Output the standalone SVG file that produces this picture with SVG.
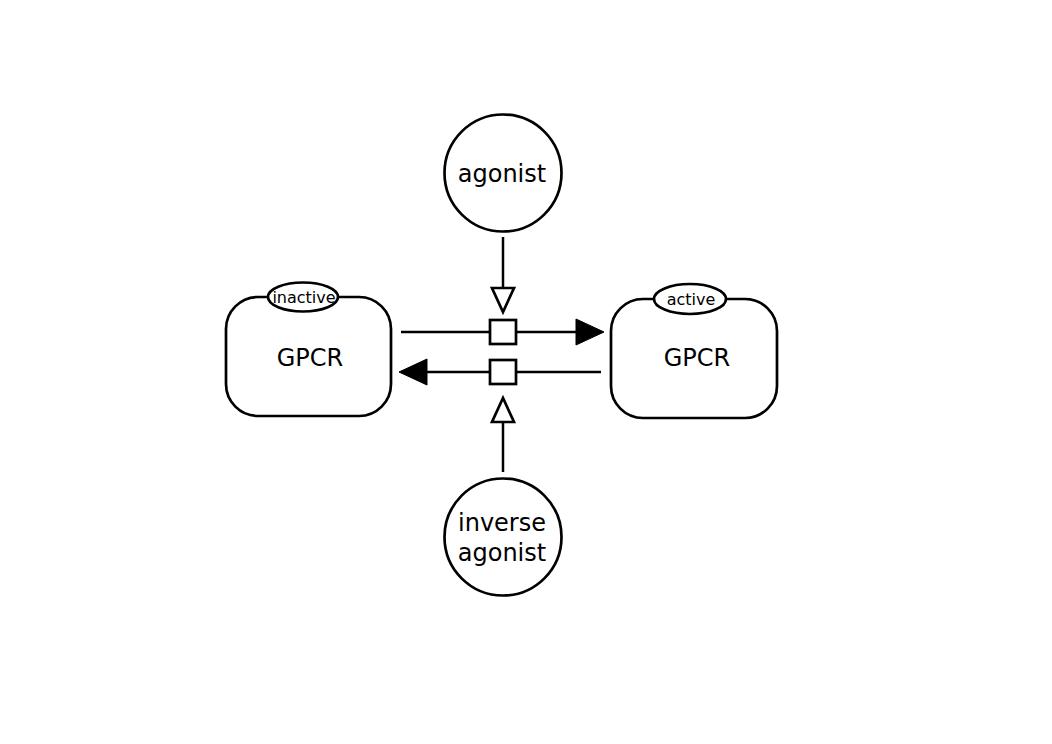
<svg xmlns="http://www.w3.org/2000/svg" width="1052" height="744" viewBox="0 0 1052 744">
<style>
.s{fill:#fff;stroke:#000;stroke-width:2.7}
.l{fill:none;stroke:#000;stroke-width:2.5}
.t{font-family:"DejaVu Sans",sans-serif;font-size:24px;text-anchor:middle}
.st{font-family:"DejaVu Sans",sans-serif;font-size:16px;text-anchor:middle}
</style>
<rect width="1052" height="744" fill="#fff"/>
<g id="connectors">
<line class="l" x1="401" y1="332" x2="578" y2="332"/>
<polygon points="576,319 604,332 576,345" fill="#000" stroke="#000" stroke-width="1"/>
<line class="l" x1="601" y1="372" x2="425" y2="372"/>
<polygon points="427,359 399,372 427,385" fill="#000" stroke="#000" stroke-width="1"/>
<line class="l" x1="503" y1="237" x2="503" y2="288"/>
<polygon class="s" points="492,288 514,288 503,312" stroke-width="2"/>
<line class="l" x1="503" y1="472" x2="503" y2="422"/>
<polygon class="s" points="492,422 514,422 503,398" stroke-width="2"/>
<rect class="s" x="490" y="320" width="26" height="24"/>
<rect class="s" x="490" y="360" width="26" height="24"/>
</g>
<g id="gpcr-inactive">
<rect class="s" x="226" y="297" width="165" height="119" rx="32" ry="32"/>
<text class="t" x="310" y="366">GPCR</text>
<ellipse class="s" cx="303" cy="297" rx="35" ry="14.5"/>
<text class="st" x="304" y="303">inactive</text>
</g>
<g id="gpcr-active">
<rect class="s" x="611" y="299" width="166" height="119" rx="32" ry="32"/>
<text class="t" x="697" y="366">GPCR</text>
<ellipse class="s" cx="690" cy="299" rx="36" ry="15"/>
<text class="st" x="691" y="305">active</text>
</g>
<g id="agonist">
<circle class="s" cx="503" cy="173" r="58.5"/>
<text class="t" x="502" y="182">agonist</text>
</g>
<g id="inverse-agonist">
<circle class="s" cx="503" cy="537" r="58.5"/>
<text class="t" x="502" y="531">inverse</text>
<text class="t" x="502" y="561">agonist</text>
</g>
</svg>
